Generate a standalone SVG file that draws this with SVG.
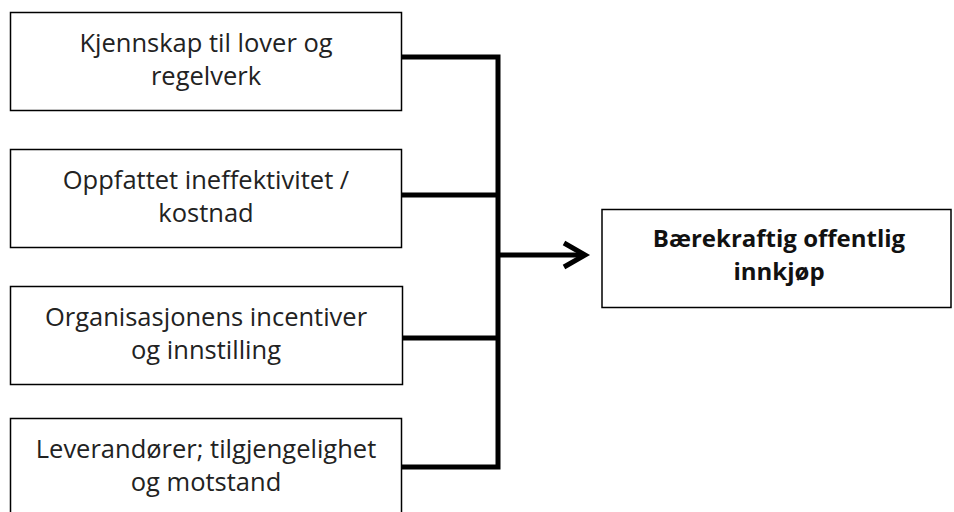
<svg xmlns="http://www.w3.org/2000/svg" width="954" height="512" viewBox="0 0 954 512">
<style>
.box{fill:#fff;stroke:#000;stroke-width:1.5}
.t{font-family:"Open Sans","Noto Sans","Liberation Sans",sans-serif;font-size:25.5px;fill:#222;text-anchor:middle}
.b{font-weight:bold;font-size:24px;fill:#111}
.c{fill:none;stroke:#000;stroke-width:5;stroke-linecap:butt;stroke-linejoin:miter}
</style>
<rect width="954" height="512" fill="#fff"/>
<g id="connectors">
<path class="c" d="M402 57 H498 V467 H402"/>
<path class="c" d="M402 195 H498"/>
<path class="c" d="M402 338 H498"/>
<path class="c" d="M498 255 H585"/>
<path class="c" d="M564 243 L585 255 L564 267"/>
</g>
<g id="n1">
<rect class="box" x="10.5" y="12.5" width="391" height="98"/>
<text class="t" x="206" y="52">Kjennskap til lover og</text>
<text class="t" x="206" y="85">regelverk</text>
</g>
<g id="n2">
<rect class="box" x="10.5" y="149.5" width="391" height="98"/>
<text class="t" x="206" y="189">Oppfattet ineffektivitet /</text>
<text class="t" x="206" y="222">kostnad</text>
</g>
<g id="n3">
<rect class="box" x="10.5" y="286.5" width="392" height="98"/>
<text class="t" x="206" y="326">Organisasjonens incentiver</text>
<text class="t" x="206" y="359">og innstilling</text>
</g>
<g id="n4">
<rect class="box" x="10.5" y="418.5" width="391" height="98"/>
<text class="t" x="206" y="458">Leverandører; tilgjengelighet</text>
<text class="t" x="206" y="491">og motstand</text>
</g>
<g id="n5">
<rect class="box" x="602" y="209.5" width="349" height="98"/>
<text class="t b" x="779" y="247">Bærekraftig offentlig</text>
<text class="t b" x="779" y="280">innkjøp</text>
</g>
</svg>
